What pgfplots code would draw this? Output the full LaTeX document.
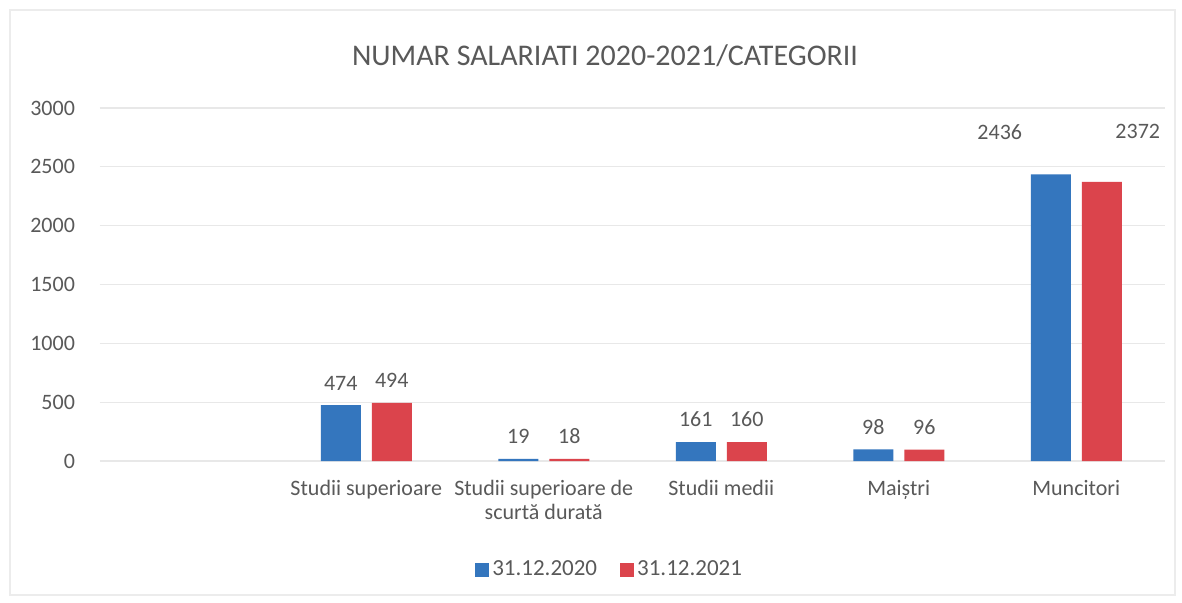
\documentclass[border=0pt]{standalone}
\usepackage{pgfplots}
\pgfplotsset{compat=1.18}
\usepackage{pgfplotstable}
\usepackage{fontspec}
\setmainfont{Carlito}
\definecolor{cblue}{RGB}{52,118,190}
\definecolor{cred}{RGB}{219,68,76}
\definecolor{tgray}{RGB}{89,89,89}
\pgfplotstableread{
x y dx dy
1 474 0 4
2 19 0 4
3 161 0 4
4 98 0 4
5 2436 -25.5 14
}\dataA
\pgfplotstableread{
x y dx dy
1 494 0 4
2 18 0 4
3 160 0 4
4 96 0 4
5 2372 18 18
}\dataB
\begin{document}
\begin{tikzpicture}
\useasboundingbox (-50pt,-70.5pt) rectangle (541pt,230.5pt);
\fill[white] (-50pt,-70.5pt) rectangle (541pt,230.5pt);
\draw[gray!15, line width=0.6pt] (-45pt,-67pt) rectangle (537.5pt,225.5pt);
\begin{axis}[
  at={(0,0)}, anchor=south west,
  width=532.5pt, height=176.5pt, scale only axis,
  ybar=5.5pt, bar width=20pt,
  xmin=-0.5, xmax=5.5, ymin=0, ymax=3000,
  xtick={0,...,5},
  xticklabels={{},Studii superioare,{Studii superioare de\\scurtă durată},Studii medii,Maiștri,Muncitori},
  ytick={0,500,...,3000},
  axis line style={draw=none},
  major tick length=0pt,
  ymajorgrids, major grid style={gray!18, line width=0.6pt},
  tick label style={font=\fontsize{11}{12}\selectfont, text=tgray},
  xticklabel style={align=center, yshift=-6pt},
  yticklabel style={xshift=-9pt},
  /pgf/number format/assume math mode=true,
  /pgf/number format/1000 sep={},
  legend style={at={(0.479,0)}, anchor=center, yshift=-54.5pt, draw=none,
    font=\fontsize{11.5}{12}\selectfont, text=tgray, column sep=0pt,
    nodes={inner xsep=1.5pt},
    /tikz/every even column/.append style={column sep=10pt}},
  legend columns=2,
  legend image code/.code={\fill[#1] (0pt,-3.5pt) rectangle (7pt,3.5pt);},
  nodes near coords,
  nodes near coords style={font=\fontsize{11}{12}\selectfont, text=tgray, anchor=south},
  visualization depends on={\thisrow{dx} \as \dx},
  visualization depends on={\thisrow{dy} \as \dy},
  every node near coord/.append style={xshift=\dx pt, yshift=\dy pt},
]
\addplot[fill=cblue, draw=none] table[x=x, y=y] {\dataA};
\addplot[fill=cred, draw=none] table[x=x, y=y] {\dataB};
\legend{31.12.2020, 31.12.2021}
\end{axis}
\node[font=\fontsize{15}{17}\selectfont, text=tgray] at (252.5pt,202.5pt) {NUMAR SALARIATI 2020-2021/CATEGORII};
\end{tikzpicture}
\end{document}
